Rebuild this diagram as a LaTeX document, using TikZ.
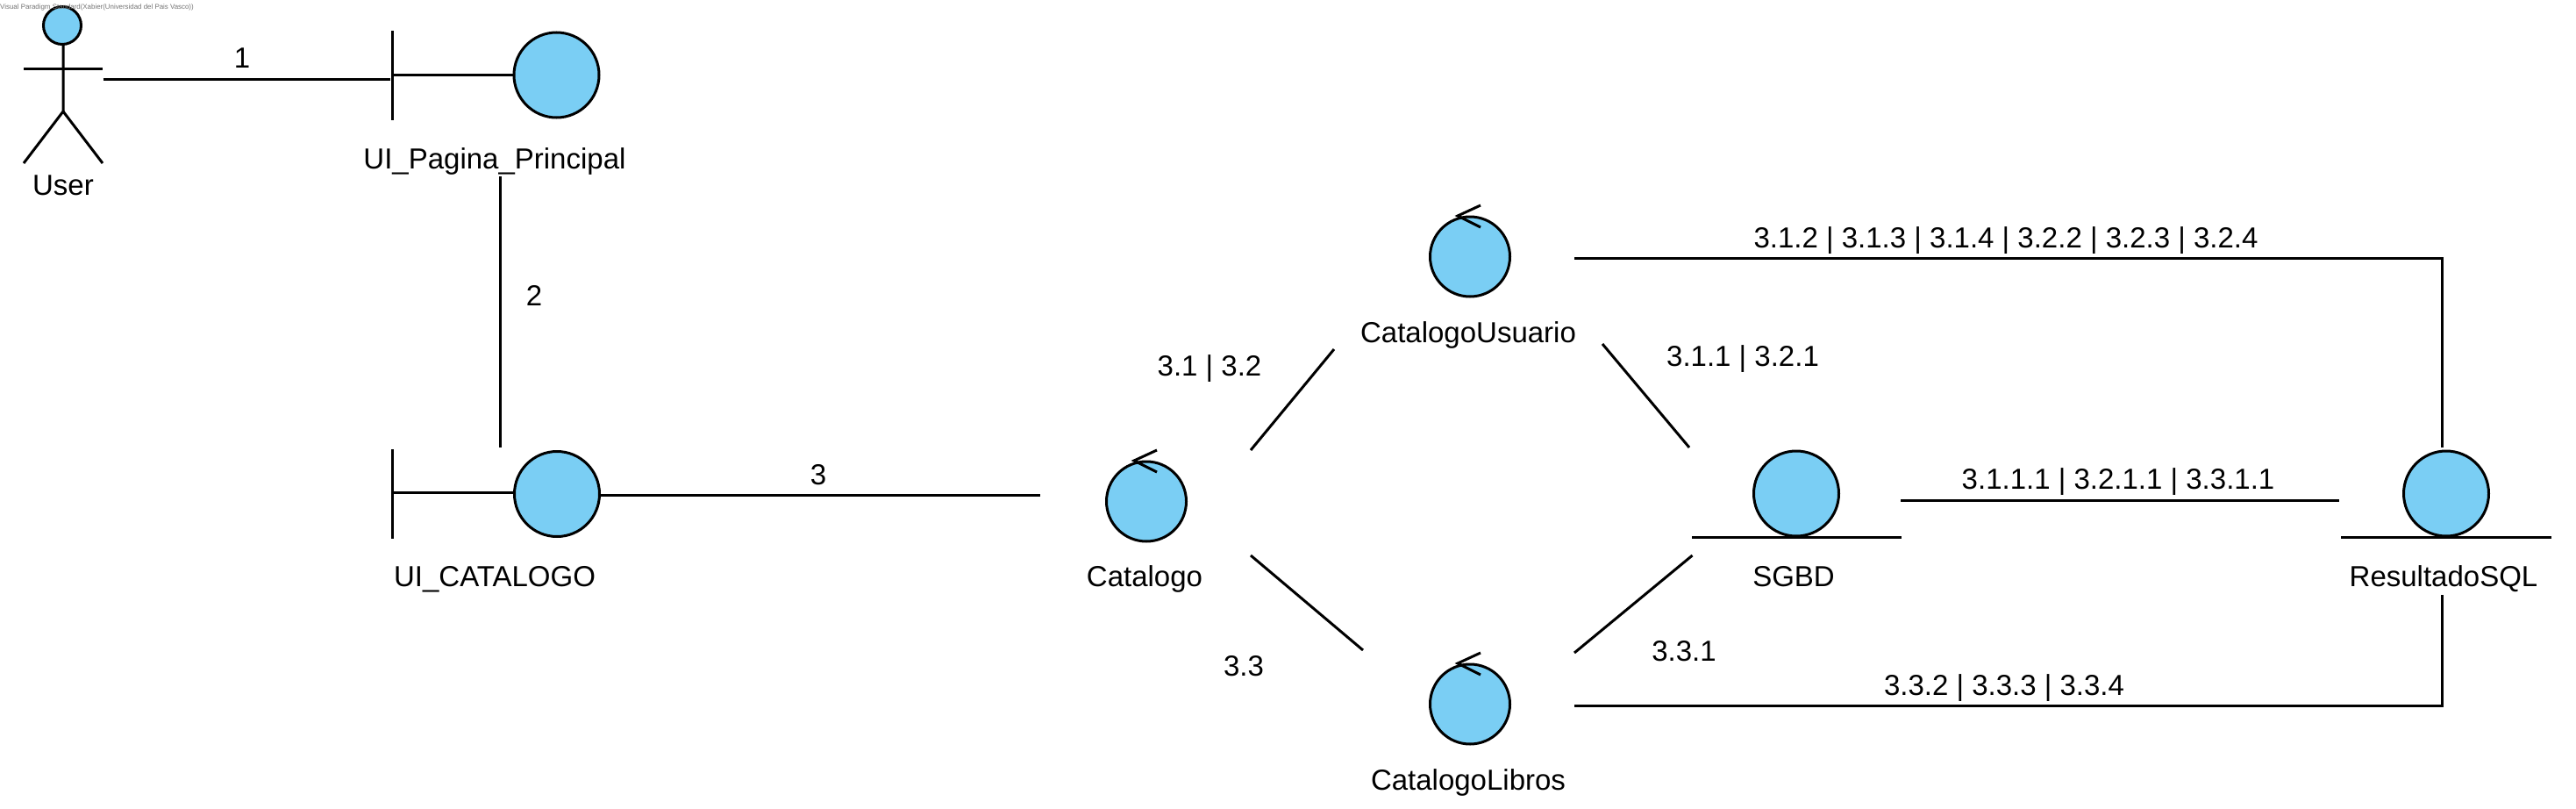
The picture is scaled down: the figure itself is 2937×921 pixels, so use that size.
\documentclass[tikz,border=0pt]{standalone}
\usepackage{fontspec}
\setmainfont{Liberation Sans}
\usetikzlibrary{calc}
\definecolor{umlblue}{HTML}{7ACEF4}

\tikzset{
  umlline/.style={line width=3pt},
  lbl/.style={anchor=base,inner sep=0pt,font=\fontsize{33}{36}\selectfont},
  entitydot/.style={circle,draw,umlline,fill=umlblue,inner sep=0pt,minimum size=97pt},
  controldot/.style={circle,draw,umlline,fill=umlblue,inner sep=0pt,minimum size=91pt},
  headdot/.style={circle,draw,umlline,fill=umlblue,inner sep=0pt,minimum size=43pt},
}

\begin{document}
\begin{tikzpicture}[x=1pt,y=-1pt]
\useasboundingbox (0,0) rectangle (2937,921);

% actor
\coordinate (neck) at (72,51);
\coordinate (hip) at (72,127);
\coordinate (armL) at (27,78);
\coordinate (armR) at (117,78);
\coordinate (footL) at (27,186);
\coordinate (footR) at (117,186);
\draw[umlline] (neck) -- (hip) -- (footL);
\draw[umlline] (hip) -- (footR);
\draw[umlline] (armL) -- (armR);
\node[headdot] (head) at (71,29) {};
\node[lbl] (user) at (72,222) {User};

% boundaries
\coordinate (pagT) at (447,35);
\coordinate (pagB) at (447,137);
\coordinate (pagM) at (447,85);
\coordinate (pagS) at (600,85);
\draw[umlline] (pagT) -- (pagB);
\draw[umlline] (pagM) -- (pagS);
\node[entitydot] (paginadot) at (634.5,85.5) {};
\node[lbl] (pagina) at (564,192) {UI\_Pagina\_Principal};

\coordinate (catT) at (447,512);
\coordinate (catB) at (447,614);
\coordinate (catM) at (447,561);
\coordinate (catS) at (600,561);
\draw[umlline] (catT) -- (catB);
\draw[umlline] (catM) -- (catS);
\node[entitydot] (catuidot) at (635,563) {};
\node[lbl] (catui) at (564,668) {UI\_CATALOGO};

% controls
\node[controldot] (catalogodot) at (1307,571.5) {};
\node[lbl] (catalogo) at (1305,668) {Catalogo};
\node[controldot] (usuariodot) at (1676,292.5) {};
\node[lbl] (usuario) at (1674,390) {CatalogoUsuario};
\node[controldot] (librosdot) at (1676,802.5) {};
\node[lbl] (libros) at (1674,900) {CatalogoLibros};

\draw[umlline] ($(catalogodot)+(12,-58.5)$) -- ($(catalogodot)+(-14,-46.5)$) -- ($(catalogodot)+(12,-33.5)$);
\draw[umlline] ($(usuariodot)+(12,-58.5)$) -- ($(usuariodot)+(-14,-46.5)$) -- ($(usuariodot)+(12,-33.5)$);
\draw[umlline] ($(librosdot)+(12,-58.5)$) -- ($(librosdot)+(-14,-46.5)$) -- ($(librosdot)+(12,-33.5)$);

% entities
\node[entitydot] (sgbddot) at (2048,562.5) {};
\node[lbl] (sgbd) at (2045,668) {SGBD};
\node[entitydot] (resultdot) at (2789,562.5) {};
\node[lbl] (result) at (2786,668) {ResultadoSQL};
\draw[umlline] (1929,612) -- (2168,612);
\draw[umlline] (2669,612) -- (2909,612);

% connectors
\coordinate (c1a) at (117.5,90);
\coordinate (c1b) at (445,90);
\draw[umlline] (c1a) -- (c1b);
\node[lbl] (l1) at (276,77) {1};

\coordinate (c2a) at (570.5,201);
\coordinate (c2b) at (570.5,510);
\draw[umlline] (c2a) -- (c2b);
\node[lbl] (l2) at (609,348) {2};

\coordinate (c3a) at (684,564);
\coordinate (c3b) at (1186,564);
\draw[umlline] (c3a) -- (c3b);
\node[lbl] (l3) at (933,552) {3};

\coordinate (c31a) at (1426,513);
\coordinate (c31b) at (1521,398);
\draw[umlline] (c31a) -- (c31b);
\node[lbl] (l31) at (1379,428) {3.1 | 3.2};

\coordinate (c33a) at (1426,633);
\coordinate (c33b) at (1554,741);
\draw[umlline] (c33a) -- (c33b);
\node[lbl] (l33) at (1418,770) {3.3};

\coordinate (c311a) at (1827,392);
\coordinate (c311b) at (1926,510);
\draw[umlline] (c311a) -- (c311b);
\node[lbl] (l311) at (1987,417) {3.1.1 | 3.2.1};

\coordinate (c331a) at (1795,744);
\coordinate (c331b) at (1929.5,633);
\draw[umlline] (c331a) -- (c331b);
\node[lbl] (l331) at (1920,753) {3.3.1};

\coordinate (c312a) at (1795,294);
\coordinate (c312b) at (2784,294);
\coordinate (c312c) at (2784,510);
\draw[umlline] (c312a) -- (c312b) -- (c312c);
\node[lbl] (l312) at (2287,282) {3.1.2 | 3.1.3 | 3.1.4 | 3.2.2 | 3.2.3 | 3.2.4};

\coordinate (c3111a) at (2167,570);
\coordinate (c3111b) at (2667,570);
\draw[umlline] (c3111a) -- (c3111b);
\node[lbl] (l3111) at (2415,557) {3.1.1.1 | 3.2.1.1 | 3.3.1.1};

\coordinate (c332a) at (1795,804);
\coordinate (c332b) at (2784,804);
\coordinate (c332c) at (2784,678);
\draw[umlline] (c332a) -- (c332b) -- (c332c);
\node[lbl] (l332) at (2285,792) {3.3.2 | 3.3.3 | 3.3.4};

% watermark
\node[anchor=base west,inner sep=0pt,text=black!55,font=\fontsize{7.9}{10}\selectfont] (mark) at (0,10) {Visual Paradigm Standard(Xabier(Universidad del Pais Vasco))};

\end{tikzpicture}
\end{document}
